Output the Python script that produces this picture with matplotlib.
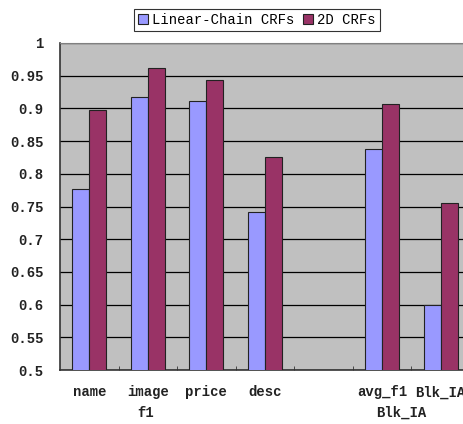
import numpy as np
import matplotlib.pyplot as plt

categories = ['name', 'image', 'price', 'desc', '', 'avg_f1', 'Blk_IA']
linear_chain = [0.776, 0.917, 0.912, 0.742, np.nan, 0.838, 0.600]
crf_2d = [0.898, 0.962, 0.944, 0.825, np.nan, 0.906, 0.755]
groups = ['f1', 'Blk_IA']
yticks = [0.5, 0.55, 0.6, 0.65, 0.7, 0.75, 0.8, 0.85, 0.9, 0.95, 1]
ytick_labels = ['0.5', '0.55', '0.6', '0.65', '0.7', '0.75', '0.8', '0.85', '0.9', '0.95', '1']

plt.rcParams['font.family'] = 'Liberation Mono'

fig = plt.figure(figsize=(4.64, 4.24), dpi=100)
# plot area runs off the right edge of the figure
ax = fig.add_axes([60 / 464, 54 / 424, 410 / 464, 327 / 424])
ax.set_facecolor('#c0c0c0')

x = np.arange(len(categories))
w = 0.29
ax.bar(x - w / 2, linear_chain, w, color='#9999ff', edgecolor='#222222', linewidth=0.8,
       label='Linear-Chain CRFs', zorder=3)
ax.bar(x + w / 2, crf_2d, w, color='#993366', edgecolor='#222222', linewidth=0.8,
       label='2D CRFs', zorder=3)

ax.set_ylim(0.5, 1)
ax.set_xlim(-0.5, len(categories) - 0.5)
ax.set_yticks(yticks)
ax.set_yticklabels(ytick_labels, fontsize=10, fontweight='bold', color='#222222')
ax.yaxis.grid(True, color='black', linewidth=0.9, zorder=1)
ax.tick_params(axis='y', length=0, pad=12)

# category labels plus the group row below
ax.set_xticks(x)
ax.set_xticklabels(categories, fontsize=10, fontweight='bold', color='#222222')
ax.tick_params(axis='x', length=0, pad=11)
ax.set_xticks(np.arange(len(categories)) + 0.5, minor=True)
ax.tick_params(axis='x', which='minor', direction='in', length=3, color='#333333')
ax.text(0.97, -0.132, groups[0], transform=ax.get_xaxis_transform(), ha='center', va='center',
        fontsize=10, fontweight='bold', color='#222222')
ax.text(5.32, -0.132, groups[1], transform=ax.get_xaxis_transform(), ha='center', va='center',
        fontsize=10, fontweight='bold', color='#222222')

for side in ['left', 'bottom']:
    ax.spines[side].set_color('#333333')
    ax.spines[side].set_linewidth(1.2)
ax.spines['top'].set_color('#808080')
ax.spines['right'].set_visible(False)

leg = fig.legend(loc='center', bbox_to_anchor=(257 / 464, 1 - 20 / 424), ncol=2, fontsize=10,
                 frameon=True, fancybox=False, edgecolor='black', handlelength=0.7,
                 handleheight=0.7, handletextpad=0.3, columnspacing=0.6, borderpad=0.3)
leg.get_frame().set_linewidth(0.8)

fig.savefig('out.png', dpi=100)
